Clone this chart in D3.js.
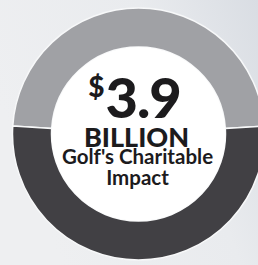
<!DOCTYPE html>
<html>
<head>
<meta charset="utf-8">
<script src="https://cdn.jsdelivr.net/npm/d3@7"></script>
<style>
    html, body { margin: 0; padding: 0; background: #eceef0; }
    #chart { width: 258px; height: 265px; }
    svg { display: block; }
</style>
</head>
<body>
<div id="chart"></div>
<script>
// data
const segments = ['Top', 'Bottom'];
const shares = [48, 52];
const colors = ['#a0a1a5', '#414044'];
const amount = '3.9';
const unit = 'BILLION';
const captionLines = ["Golf's Charitable", 'Impact'];

const $sel = d3.select('#chart');
const width = 258;
const height = 265;

// donut geometry
const CX = 138.5;
const CY = 134;
const R_OUTER = 126;
const R_INNER = 87;

const $svg = $sel.append('svg')
    .attr('width', width)
    .attr('height', height);

// soft photo-ish background
const $defs = $svg.append('defs');
const grad = $defs.append('linearGradient')
    .attr('id', 'bg')
    .attr('x1', 0).attr('y1', 0.4)
    .attr('x2', 1).attr('y2', 0);
grad.append('stop').attr('offset', '0%').attr('stop-color', '#eeeff1');
grad.append('stop').attr('offset', '60%').attr('stop-color', '#e9ebee');
grad.append('stop').attr('offset', '100%').attr('stop-color', '#d9dde3');

$svg.append('rect')
    .attr('width', width)
    .attr('height', height)
    .attr('fill', 'url(#bg)');

const $g = $svg.append('g')
    .attr('transform', `translate(${CX}, ${CY})`);

// top slice centred on 12 o'clock
const total = d3.sum(shares);
const start = -Math.PI * shares[0] / total;
const pie = d3.pie()
    .sort(null)
    .startAngle(start)
    .endAngle(start + 2 * Math.PI);

const arc = d3.arc()
    .innerRadius(R_INNER)
    .outerRadius(R_OUTER);

const color = d3.scaleOrdinal()
    .domain(segments)
    .range(colors);

$g.selectAll('.slice')
    .data(pie(shares))
    .join('path')
    .attr('class', 'slice')
    .attr('d', arc)
    .attr('fill', (d, i) => color(segments[i]))
    .attr('stroke', '#f7f8f9')
    .attr('stroke-width', 1.5);

$g.append('circle')
    .attr('r', R_INNER)
    .attr('fill', '#ffffff');

// labels
const $big = $g.append('text')
    .attr('x', -4)
    .attr('y', 118 - CY)
    .attr('text-anchor', 'middle')
    .style('font-family', 'Lato, sans-serif')
    .style('font-weight', 900)
    .attr('fill', '#1c1b1d');

$big.append('tspan')
    .attr('font-size', 28)
    .attr('dy', -21)
    .text('$');
$big.append('tspan')
    .attr('font-size', 56)
    .attr('dx', 1)
    .attr('dy', 21)
    .style('letter-spacing', '-1px')
    .text(amount);

$g.append('text')
    .attr('x', -2)
    .attr('y', 147 - CY)
    .attr('text-anchor', 'middle')
    .style('font-family', 'Lato, sans-serif')
    .style('font-weight', 900)
    .attr('font-size', 27)
    .attr('fill', '#1c1b1d')
    .text(unit);

$g.selectAll('.caption')
    .data(captionLines)
    .join('text')
    .attr('class', 'caption')
    .attr('x', -1)
    .attr('y', (d, i) => 164 - CY + i * 21)
    .attr('text-anchor', 'middle')
    .style('font-family', 'Lato, sans-serif')
    .style('font-weight', 700)
    .attr('font-size', 20.5)
    .attr('fill', '#1c1b1d')
    .text(d => d);
</script>
</body>
</html>
